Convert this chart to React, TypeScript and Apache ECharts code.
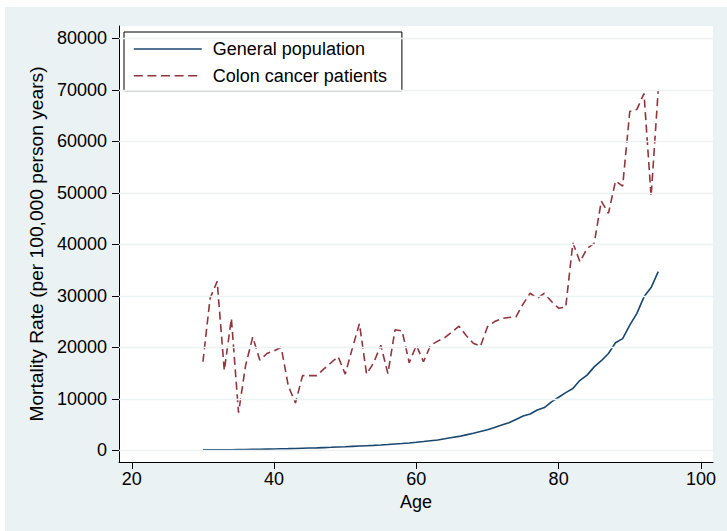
import React, { useEffect, useRef } from "react";
import * as echarts from "echarts";

const ages = [
  30, 31, 32, 33, 34, 35, 36, 37, 38, 39, 40, 41, 42, 43, 44, 45, 46, 47, 48, 49,
  50, 51, 52, 53, 54, 55, 56, 57, 58, 59, 60, 61, 62, 63, 64, 65, 66, 67, 68, 69,
  70, 71, 72, 73, 74, 75, 76, 77, 78, 79, 80, 81, 82, 83, 84, 85, 86, 87, 88, 89,
  90, 91, 92, 93, 94,
];

const generalPopulation = [
  80, 90, 100, 110, 120, 140, 160, 180, 200, 230, 260, 290, 320, 360, 400, 440, 480, 530, 580, 640,
  700, 770, 840, 900, 960, 1030, 1120, 1220, 1320, 1430, 1560, 1700, 1850, 2000, 2250, 2500, 2700, 3000, 3300, 3650,
  4000, 4450, 4900, 5350, 6000, 6650, 7050, 7830, 8300, 9400, 10300, 11200, 12000, 13600, 14600, 16200, 17400, 18800, 20900, 21700,
  24300, 26600, 29800, 31600, 34700,
];

const colonCancerPatients = [
  17200, 29500, 32800, 15500, 25600, 7300, 16500, 22000, 17500, 18800, 19300, 20000, 12500, 9200, 14500, 14500, 14500, 15800, 17000, 18200,
  14800, 19800, 24600, 14800, 17000, 20400, 14900, 23400, 23200, 17000, 20400, 17200, 20400, 21200, 21900, 23000, 24100, 22300, 20800, 20200,
  24000, 25000, 25600, 25800, 25900, 28400, 30500, 29500, 30500, 28900, 27600, 27800, 40300, 36600, 39200, 40200, 48400, 46000, 52300, 51300,
  65800, 66200, 69300, 49300, 70000,
];

const xTicks = [20, 40, 60, 80, 100];
const yTicks = [0, 10000, 20000, 30000, 40000, 50000, 60000, 70000, 80000];

const seriesNames = ["General population", "Colon cancer patients"];

export default function App() {
  const ref = useRef<HTMLDivElement>(null);

  useEffect(() => {
    const chart = echarts.init(ref.current as HTMLDivElement, null, { renderer: "svg" });
    const font = "'Liberation Sans', Arial, sans-serif";
    const bg = "#EAF2F3";
    chart.setOption({
      animation: false,
      backgroundColor: bg,
      textStyle: { fontFamily: font, color: "#000" },
      graphic: [
        { type: "rect", left: 0, top: 0, shape: { width: 727, height: 7 }, style: { fill: "#fff" }, silent: true },
        { type: "rect", left: 0, top: 0, shape: { width: 5, height: 531 }, style: { fill: "#fff" }, silent: true },
      ],
      grid: {
        left: 119,
        right: 14,
        top: 26,
        bottom: 69,
        show: true,
        backgroundColor: "#fff",
        borderWidth: 0,
      },
      legend: {
        data: [
          { name: seriesNames[0], lineStyle: { type: "solid", width: 1.6 } },
          { name: seriesNames[1], lineStyle: { type: [9, 4.6], width: 1.6 } },
        ],
        orient: "vertical",
        left: 124,
        top: 32,
        padding: [8, 15, 6, 9],
        itemWidth: 68,
        itemHeight: 18,
        itemGap: 8.7,
        backgroundColor: "#fff",
        borderColor: "#000",
        borderWidth: 1,
        borderRadius: 0,
        itemStyle: { opacity: 0 },
        textStyle: { fontSize: 18, color: "#000", fontFamily: font, padding: [0, 0, 0, 6] },
      },
      xAxis: {
        type: "value",
        min: 18.2,
        max: 101.7,
        name: "Age",
        nameLocation: "middle",
        nameGap: 28,
        nameTextStyle: { fontSize: 18, color: "#000", fontFamily: font },
        axisLine: { onZero: false, lineStyle: { color: "#000", width: 1 } },
        axisTick: { customValues: xTicks, length: 7, lineStyle: { color: "#000", width: 1 } },
        axisLabel: {
          customValues: xTicks,
          fontSize: 18,
          color: "#000",
          margin: 8,
          fontFamily: font,
          formatter: (v: number) => String(v),
        },
        splitLine: { show: false },
      },
      yAxis: {
        type: "value",
        min: -2270,
        max: 82400,
        name: "Mortality Rate (per 100,000 person years)",
        nameLocation: "middle",
        nameGap: 72,
        nameTextStyle: { fontSize: 19.2, color: "#000", fontFamily: font },
        axisLine: { show: true, onZero: false, lineStyle: { color: "#000", width: 1 } },
        axisTick: { show: true, customValues: yTicks, length: 7, lineStyle: { color: "#000", width: 1 } },
        axisLabel: {
          customValues: yTicks,
          fontSize: 18,
          color: "#000",
          margin: 12,
          fontFamily: font,
          formatter: (v: number) => String(v),
        },
        splitLine: { show: false },
      },
      series: [
        {
          name: "gridlines",
          type: "line",
          data: [],
          z: 1,
          silent: true,
          markLine: {
            silent: true,
            symbol: ["none", "none"],
            label: { show: false },
            lineStyle: { color: bg, width: 1.4, type: "solid" },
            data: yTicks.map((v) => ({ yAxis: v })),
          },
        },
        {
          name: seriesNames[0],
          type: "line",
          data: ages.map((a, i) => [a, generalPopulation[i]]),
          symbol: "none",
          showSymbol: false,
          z: 3,
          lineStyle: { color: "#1A476F", width: 1.6 },
          itemStyle: { color: "#1A476F" },
        },
        {
          name: seriesNames[1],
          type: "line",
          data: ages.map((a, i) => [a, colonCancerPatients[i]]),
          symbol: "none",
          showSymbol: false,
          z: 3,
          lineStyle: { color: "#90353B", width: 1.6, type: [8, 4.5] },
          itemStyle: { color: "#90353B" },
        },
      ],
    });
    return () => chart.dispose();
  }, []);

  return (
    <div
      ref={ref}
      style={{ position: "fixed", left: 0, top: 0, width: 727, height: 531 }}
    />
  );
}
